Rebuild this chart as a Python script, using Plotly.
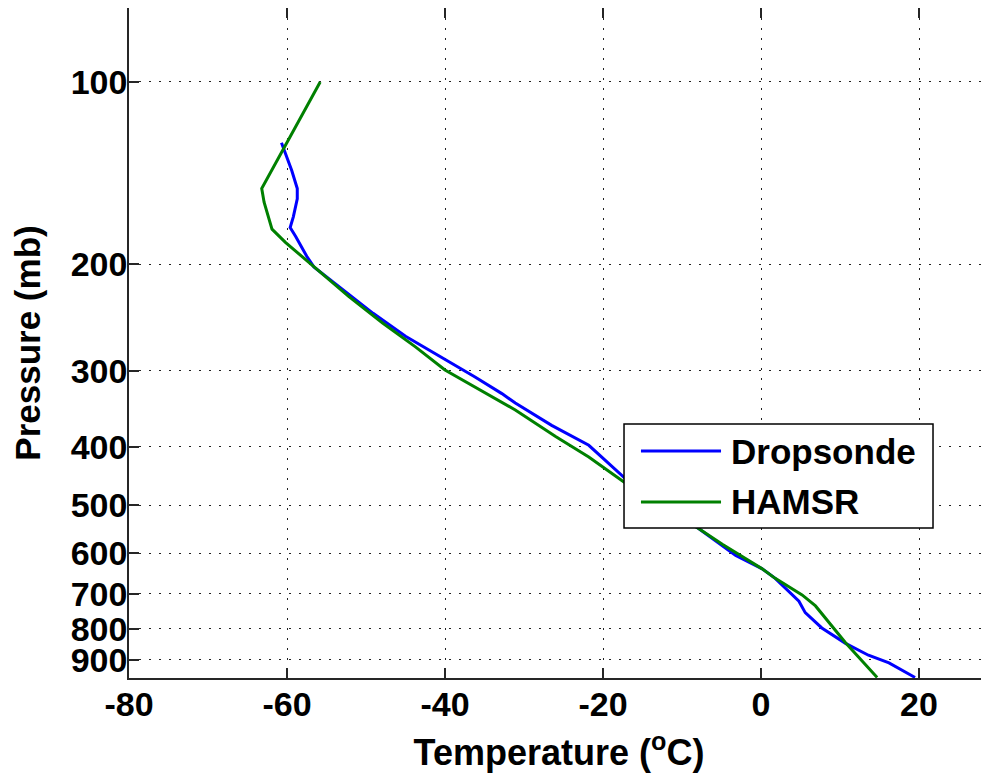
import plotly.graph_objects as go
import math

# Dropsonde profile (pressure mb, temperature C)
drop_p = [126, 131, 140, 150, 156, 167, 174, 180, 194, 202, 218, 241, 263, 285, 307, 327, 339, 369, 398, 454,
          546, 605, 636, 660, 720, 752, 797, 845, 884, 910, 962]
drop_t = [-60.7, -60.2, -59.4, -58.7, -58.7, -59.2, -59.6, -58.9, -57.5, -56.6, -53.4, -49.1, -45.0, -40.4, -36.2,
          -32.8, -31.1, -26.5, -21.8, -17.0, -7.9, -3.2, 0.1, 1.8, 4.8, 5.6, 7.7, 10.7, 13.6, 16.2, 19.5]

# HAMSR retrieval
hamsr_p = [100, 150, 158, 175, 184, 200, 226, 250, 274, 299, 322, 348, 385, 416, 457, 546, 580, 636, 660, 703,
           733, 843, 962]
hamsr_t = [-55.8, -63.2, -62.9, -61.9, -60.2, -56.9, -52.2, -47.9, -43.7, -40.0, -35.7, -31.1, -26.0, -21.8,
           -17.4, -7.9, -4.9, 0.1, 1.8, 5.2, 6.9, 10.7, 14.7]

series_names = ["Dropsonde", "HAMSR"]
series_colors = ["#0000ff", "#008000"]

x_ticks = [-80, -60, -40, -20, 0, 20]
y_ticks = [100, 200, 300, 400, 500, 600, 700, 800, 900]

FONT = "Liberation Sans, Arial, sans-serif"

fig = go.Figure()
fig.add_trace(go.Scatter(x=drop_t, y=drop_p, mode="lines", name=series_names[0],
                         line=dict(color=series_colors[0], width=3)))
fig.add_trace(go.Scatter(x=hamsr_t, y=hamsr_p, mode="lines", name=series_names[1],
                         line=dict(color=series_colors[1], width=3)))

axis_common = dict(
    showline=True, linecolor="#262626", linewidth=1.5,
    ticks="inside", ticklen=10, tickwidth=1.5, tickcolor="#262626",
    showgrid=True, gridcolor="#222222", gridwidth=1, griddash="2px,8px",
    zeroline=False, automargin=False,
    tickfont=dict(family=FONT, size=34, color="black", weight="bold"),
)

fig.update_xaxes(
    range=[-80, 28.86], tickvals=x_ticks, ticktext=[str(v) for v in x_ticks],
    mirror="ticks", ticklabelstandoff=-5,
    title=dict(text="Temperature (<sup>o</sup>C)", font=dict(family=FONT, size=36, color="black", weight="bold"),
               standoff=18),
    **axis_common,
)
fig.update_yaxes(
    type="log", range=[math.log10(964), math.log10(75.5)],
    tickvals=y_ticks, ticktext=[str(v) for v in y_ticks],
    ticklabelstandoff=-7,
    title=dict(text="Pressure (mb)", font=dict(family=FONT, size=35, color="black", weight="bold"),
               standoff=22),
    **axis_common,
)

# manual legend (box, line samples, labels) in plot-area paper coordinates
leg_x0, leg_x1, leg_y0, leg_y1 = 0.5756, 0.9349, 0.2239, 0.3791
line_x0, line_x1, text_x = 0.5953, 0.6884, 0.6977
entry_y = [0.3388, 0.2627]
fig.add_shape(type="rect", xref="paper", yref="paper", x0=leg_x0, x1=leg_x1, y0=leg_y0, y1=leg_y1,
              line=dict(color="black", width=1.5), fillcolor="white", layer="above")
for name, color, yy in zip(series_names, series_colors, entry_y):
    fig.add_shape(type="line", xref="paper", yref="paper", x0=line_x0, x1=line_x1, y0=yy, y1=yy,
                  line=dict(color=color, width=3), layer="above")
    fig.add_annotation(xref="paper", yref="paper", x=text_x, y=yy, xanchor="left", yanchor="middle",
                       text=name, showarrow=False,
                       font=dict(family=FONT, size=35, color="black", weight="bold"))

fig.update_layout(
    width=981, height=772,
    margin=dict(l=121, r=0, t=0, b=102),
    paper_bgcolor="white", plot_bgcolor="white",
    showlegend=False,
)

fig.write_html("out.html")
